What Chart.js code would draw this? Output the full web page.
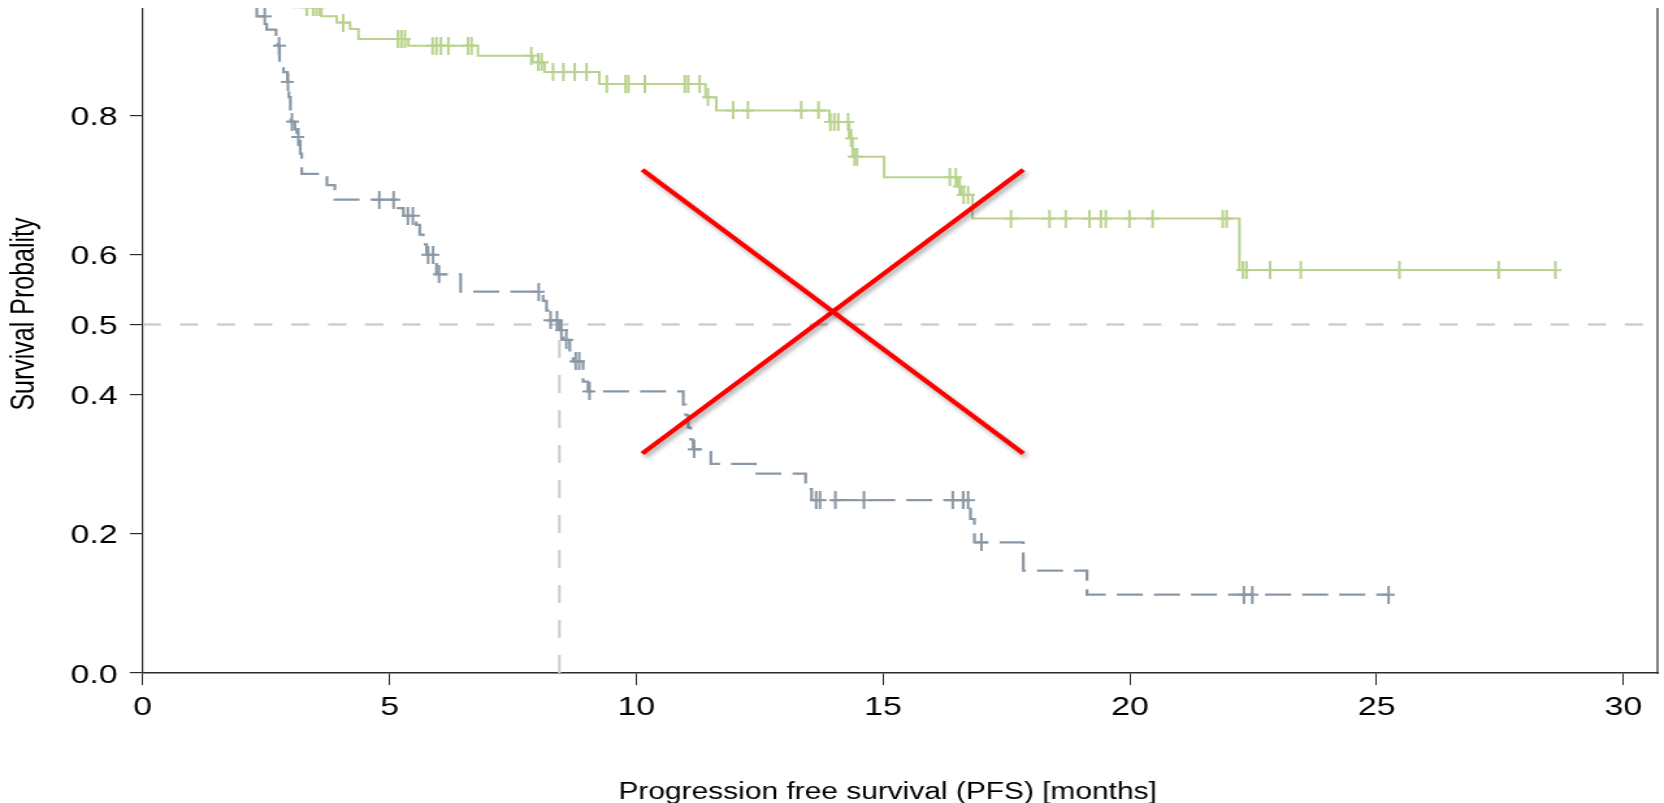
<!DOCTYPE html>
<html>
<head>
<meta charset="utf-8">
<script src="https://cdn.jsdelivr.net/npm/chart.js@4.4.1/dist/chart.umd.min.js"></script>
<style>
  html, body { margin: 0; padding: 0; background: #fff; }
  body { width: 1664px; height: 803px; overflow: hidden; position: relative; }
  /* the source figure is stretched sideways, so the chart is drawn narrow and widened */
  #wrap { position: absolute; left: 0; top: -49.76px; width: 1280px; height: 853px;
          transform: scaleX(1.3); transform-origin: 0 0; }
  #band { position: absolute; left: 0; top: 0; width: 1664px; height: 8px; background: #fff; }
</style>
</head>
<body>
<div id="wrap"><canvas id="km" width="1280" height="853"></canvas></div>
<div id="band"></div>
<script>
// axis setup
const xTicks = [0, 5, 10, 15, 20, 25, 30];
const yTicks = [0, 0.2, 0.4, 0.5, 0.6, 0.8, 1.0];
const xMax = 30.69;
const yMax = 1.03;

// grey arm (dashed): step times and survival after each step
const grayTimes = [0, 2.31, 2.51, 2.70, 2.73, 2.77, 2.85, 2.93, 2.96, 2.99, 3.00, 3.08, 3.12, 3.19, 3.22,
  3.73, 3.89, 5.14, 5.28, 5.54, 5.61, 5.68, 5.75, 5.95, 6.44, 8.11, 8.18, 8.22, 8.44, 8.52, 8.65, 8.72,
  8.92, 9.02, 10.95, 11.00, 11.05, 11.10, 11.15, 11.51, 12.41, 13.43, 13.55, 16.77, 16.85, 17.84, 19.13];
const graySurv = [1.0, 0.942, 0.923, 0.911, 0.900, 0.876, 0.862, 0.848, 0.826, 0.805, 0.791, 0.780, 0.769, 0.745, 0.716,
  0.700, 0.679, 0.667, 0.656, 0.643, 0.629, 0.615, 0.600, 0.572, 0.547, 0.534, 0.520, 0.506, 0.492, 0.478, 0.463, 0.447,
  0.418, 0.404, 0.385, 0.370, 0.352, 0.335, 0.321, 0.300, 0.286, 0.264, 0.248, 0.221, 0.1875, 0.147, 0.1125];
const grayCensor = [2.47, 2.76, 2.94, 3.02, 3.15, 4.79, 5.08, 5.37, 5.47, 5.78, 5.88, 6.00, 8.02, 8.26, 8.39,
  8.48, 8.58, 8.77, 8.84, 9.05, 11.17, 13.64, 13.72, 14.03, 14.61, 16.41, 16.62, 16.72, 16.99, 22.31, 22.48, 25.24];

// green arm (solid)
const greenTimes = [0, 3.05, 3.62, 3.93, 4.20, 4.37, 5.38, 6.79, 7.90, 8.14, 9.25, 11.40, 11.62, 13.91, 14.31,
  14.38, 15.02, 16.51, 16.58, 16.81, 22.22];
const greenSurv = [1.0, 0.955, 0.942, 0.933, 0.924, 0.9095, 0.900, 0.8855, 0.876, 0.862, 0.845, 0.826, 0.807, 0.7906, 0.767,
  0.7407, 0.7113, 0.698, 0.686, 0.652, 0.578];
const greenCensor = [3.32, 3.45, 3.52, 3.58, 4.06, 5.17, 5.24, 5.31, 5.87, 5.95, 6.04, 6.19, 6.59, 6.66, 7.87,
  8.01, 8.08, 8.31, 8.52, 8.75, 8.99, 9.40, 9.78, 9.84, 10.17, 10.98, 11.05, 11.28, 11.45, 11.96, 12.26, 13.34,
  13.69, 13.93, 14.01, 14.09, 14.29, 14.35, 14.42, 14.47, 16.35, 16.47, 16.55, 16.63, 16.72, 17.59, 18.37, 18.70,
  19.18, 19.41, 19.51, 19.99, 20.46, 21.88, 21.96, 22.29, 22.36, 22.84, 23.46, 25.46, 27.47, 28.62];

// reference lines: median of the grey arm at survival 0.5
const halfLevel = 0.5;
const grayMedian = 8.44;

// red cross drawn over the figure
const crossX = [10.12, 17.84];
const crossYDown = [0.722, 0.315];
const crossYUp = [0.315, 0.722];

const FONT = "'Liberation Sans', Arial, Helvetica, sans-serif";
const GREEN = '#b9d38f';
const GRAY = '#8a98a6';
const REF = '#cdced4';
const AXIS = '#2b2b2b';

function stepPoints(times, surv, endTime) {
  const pts = times.map((t, i) => ({ x: t, y: surv[i] }));
  pts.push({ x: endTime, y: surv[surv.length - 1] });
  return pts;
}
function survAt(times, surv, t) {
  let s = surv[0];
  for (let i = 0; i < times.length; i++) if (times[i] <= t) s = surv[i];
  return s;
}
function censorPoints(censor, times, surv) {
  return censor.map(t => ({ x: t, y: survAt(times, surv, t) }));
}
function plusMark(color) {
  const c = document.createElement('canvas');
  c.width = 10; c.height = 18;
  const g = c.getContext('2d');
  g.fillStyle = color;
  g.fillRect(4, 0, 2, 18);
  g.fillRect(0, 8, 10, 2);
  return c;
}

const shadowPlugin = {
  id: 'crossShadow',
  beforeDatasetDraw(chart, args) {
    if (chart.data.datasets[args.index].shadow) {
      const c = chart.ctx;
      c.save();
      c.shadowColor = 'rgba(0,0,0,0.35)';
      c.shadowBlur = 4;
      c.shadowOffsetX = 2;
      c.shadowOffsetY = 3;
    }
  },
  afterDatasetDraw(chart, args) {
    if (chart.data.datasets[args.index].shadow) chart.ctx.restore();
  }
};

const framePlugin = {
  id: 'frame',
  afterDatasetsDraw(chart) {
    const { ctx, chartArea } = chart;
    ctx.save();
    ctx.strokeStyle = AXIS;
    ctx.lineWidth = 1.2;
    ctx.beginPath();
    ctx.moveTo(chartArea.right, chartArea.top);
    ctx.lineTo(chartArea.right, chartArea.bottom + 0.8);
    ctx.stroke();
    ctx.restore();
  }
};

const grayEnd = grayCensor[grayCensor.length - 1];
const greenEnd = greenCensor[greenCensor.length - 1];

const datasets = [
  { label: 'cross1', data: crossX.map((x, i) => ({ x, y: crossYDown[i] })), borderColor: '#ff0000',
    borderWidth: 4, pointRadius: 0, shadow: true, order: 0 },
  { label: 'cross2', data: crossX.map((x, i) => ({ x, y: crossYUp[i] })), borderColor: '#ff0000',
    borderWidth: 4, pointRadius: 0, shadow: true, order: 0 },
  { label: 'green censored', data: censorPoints(greenCensor, greenTimes, greenSurv), showLine: false,
    pointStyle: plusMark(GREEN), pointRadius: 3, order: 1 },
  { label: 'gray censored', data: censorPoints(grayCensor, grayTimes, graySurv), showLine: false,
    pointStyle: plusMark(GRAY), pointRadius: 3, order: 1 },
  { label: 'green', data: stepPoints(greenTimes, greenSurv, greenEnd), stepped: true,
    borderColor: GREEN, borderWidth: 2, pointRadius: 0, order: 2 },
  { label: 'gray', data: stepPoints(grayTimes, graySurv, grayEnd), stepped: true,
    borderColor: GRAY, borderWidth: 2.2, borderDash: [20, 8.5], pointRadius: 0, order: 2 },
  { label: 'half', data: [{ x: 0, y: halfLevel }, { x: xMax, y: halfLevel }], borderColor: REF,
    borderWidth: 2.5, borderDash: [14, 14.5], pointRadius: 0, order: 3 },
  { label: 'median', data: [{ x: grayMedian, y: 0 }, { x: grayMedian, y: halfLevel }], borderColor: REF,
    borderWidth: 2.2, borderDash: [18, 17], pointRadius: 0, order: 3 }
];

new Chart(document.getElementById('km'), {
  type: 'line',
  data: { datasets },
  options: {
    responsive: false,
    animation: false,
    events: [],
    layout: { padding: { left: 0, right: 3.85, top: 0, bottom: 0 } },
    plugins: { legend: { display: false }, tooltip: { enabled: false } },
    scales: {
      x: {
        type: 'linear', min: 0, max: xMax,
        afterBuildTicks: s => { s.ticks = xTicks.map(v => ({ value: v })); },
        afterFit: s => { s.height = 129.94; s.paddingLeft = 0; s.paddingRight = 0; },
        grid: { display: true, drawOnChartArea: false, drawTicks: true, tickLength: 12, color: AXIS, lineWidth: 1 },
        border: { display: true, color: AXIS, width: 1.6 },
        ticks: { color: '#000', font: { family: FONT, size: 26 }, padding: 7, maxRotation: 0,
                 autoSkip: false, callback: v => String(v) },
        // trailing no-break spaces nudge the title a little left, as in the source
        title: { display: true, text: 'Progression free survival (PFS) [months]\u00a0\u00a0\u00a0', color: '#000',
                 font: { family: FONT, size: 23, lineHeight: 0.9 }, padding: { top: 0, bottom: 0 } }
      },
      y: {
        type: 'linear', min: 0, max: yMax,
        afterBuildTicks: s => { s.ticks = yTicks.map(v => ({ value: v })); },
        afterFit: s => { s.width = 109.85; s.paddingTop = 0; s.paddingBottom = 0; },
        grid: { display: true, drawOnChartArea: false, drawTicks: true, tickLength: 10, color: AXIS, lineWidth: 1.2 },
        border: { display: true, color: AXIS, width: 1.2 },
        ticks: { color: '#000', font: { family: FONT, size: 26 }, padding: 9.5, labelOffset: 2.5,
                 autoSkip: false, callback: v => v.toFixed(1) },
        title: { display: true, text: 'Survival Probality', color: '#000',
                 font: { family: FONT, size: 25 }, padding: { top: 4, bottom: 0 } }
      }
    }
  },
  plugins: [shadowPlugin, framePlugin]
});
</script>
</body>
</html>
